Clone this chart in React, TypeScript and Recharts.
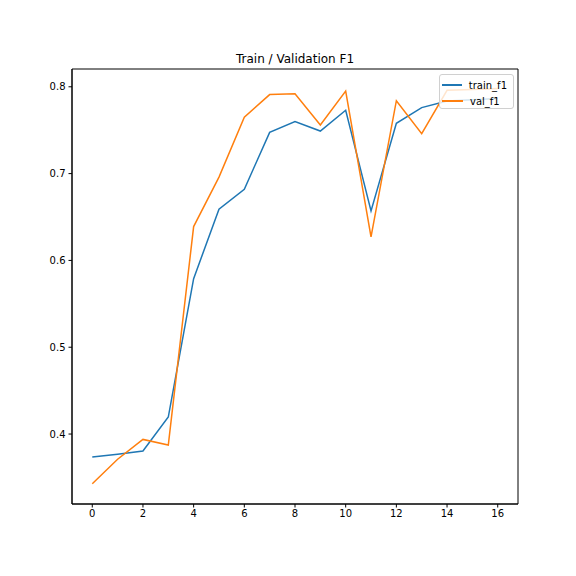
import React from 'react';
import { LineChart, Line, XAxis, YAxis, Legend, ReferenceArea } from 'recharts';

const epochs = [0, 1, 2, 3, 4, 5, 6, 7, 8, 9, 10, 11, 12, 13, 14, 15, 16];
const trainF1 = [0.3735, 0.3767, 0.3804, 0.4196, 0.579, 0.659, 0.682, 0.7475, 0.760, 0.749, 0.773, 0.657, 0.758, 0.776, 0.7837, 0.785, 0.7866];
const valF1 = [0.3427, 0.371, 0.3938, 0.3873, 0.639, 0.696, 0.765, 0.791, 0.792, 0.756, 0.795, 0.627, 0.784, 0.746, 0.796, 0.797, 0.798];
const xTicks = [0, 2, 4, 6, 8, 10, 12, 14, 16];
const yTicks = [0.4, 0.5, 0.6, 0.7, 0.8];

const X_DOMAIN: [number, number] = [-0.8, 16.8];
const Y_DOMAIN: [number, number] = [0.3194, 0.8205];

const data = epochs.map((e, i) => ({ epoch: e, train_f1: trainF1[i], val_f1: valF1[i] }));

const FONT = '"DejaVu Sans", sans-serif';
const tickStyle = { fontSize: 10, fill: '#000', fontFamily: FONT };

const LegendBox = (props: any) => {
  const items = props.payload || [];
  return (
    <div
      style={{
        background: 'rgba(255,255,255,0.8)',
        border: '1px solid #d0d0d0',
        borderRadius: 3,
        padding: '2px 6px 2px 2px',
        fontFamily: FONT,
        fontSize: 10,
        color: '#000',
        boxSizing: 'border-box',
        width: 75,
        height: 35,
      }}
    >
      {items.map((it: any) => (
        <div key={it.value} style={{ display: 'flex', alignItems: 'center', height: 16 }}>
          <span style={{ display: 'inline-block', width: 21, height: 2, background: it.color, marginRight: 7 }} />
          <span>{it.value}</span>
        </div>
      ))}
    </div>
  );
};

export default function App() {
  return (
    <div style={{ position: 'absolute', left: 0, top: 0, width: 576, height: 576, background: '#fff' }}>
      <div
        style={{
          position: 'absolute',
          left: 72,
          width: 446,
          top: 52,
          textAlign: 'center',
          fontFamily: FONT,
          fontSize: 12,
          color: '#000',
        }}
      >
        Train / Validation F1
      </div>
      <LineChart width={576} height={576} data={data} margin={{ top: 69, right: 58, bottom: 42, left: 0 }}>
        <XAxis
          dataKey="epoch"
          type="number"
          domain={X_DOMAIN}
          ticks={xTicks}
          allowDataOverflow
          height={30}
          tick={tickStyle}
          tickSize={3.5}
          tickMargin={2}
          stroke="#000"
          tickLine={{ stroke: '#000' }}
        />
        <YAxis
          type="number"
          domain={Y_DOMAIN}
          ticks={yTicks}
          allowDataOverflow
          width={72}
          tick={tickStyle}
          tickSize={3.5}
          tickMargin={3}
          tickFormatter={(v: number) => v.toFixed(1)}
          stroke="#000"
          tickLine={{ stroke: '#000' }}
        />
        <ReferenceArea
          x1={X_DOMAIN[0]}
          x2={X_DOMAIN[1]}
          y1={Y_DOMAIN[0]}
          y2={Y_DOMAIN[1]}
          fill="none"
          stroke="#000"
          strokeWidth={1}
          ifOverflow="visible"
        />
        <Line type="linear" dataKey="train_f1" stroke="#1f77b4" strokeWidth={1.5} dot={false} isAnimationActive={false} />
        <Line type="linear" dataKey="val_f1" stroke="#ff7f0e" strokeWidth={1.5} dot={false} isAnimationActive={false} />
        <Legend
          layout="horizontal"
          verticalAlign="middle"
          align="center"
          content={<LegendBox />}
          wrapperStyle={{ left: 439, top: 74, width: 75, height: 35 }}
        />
      </LineChart>
    </div>
  );
}
